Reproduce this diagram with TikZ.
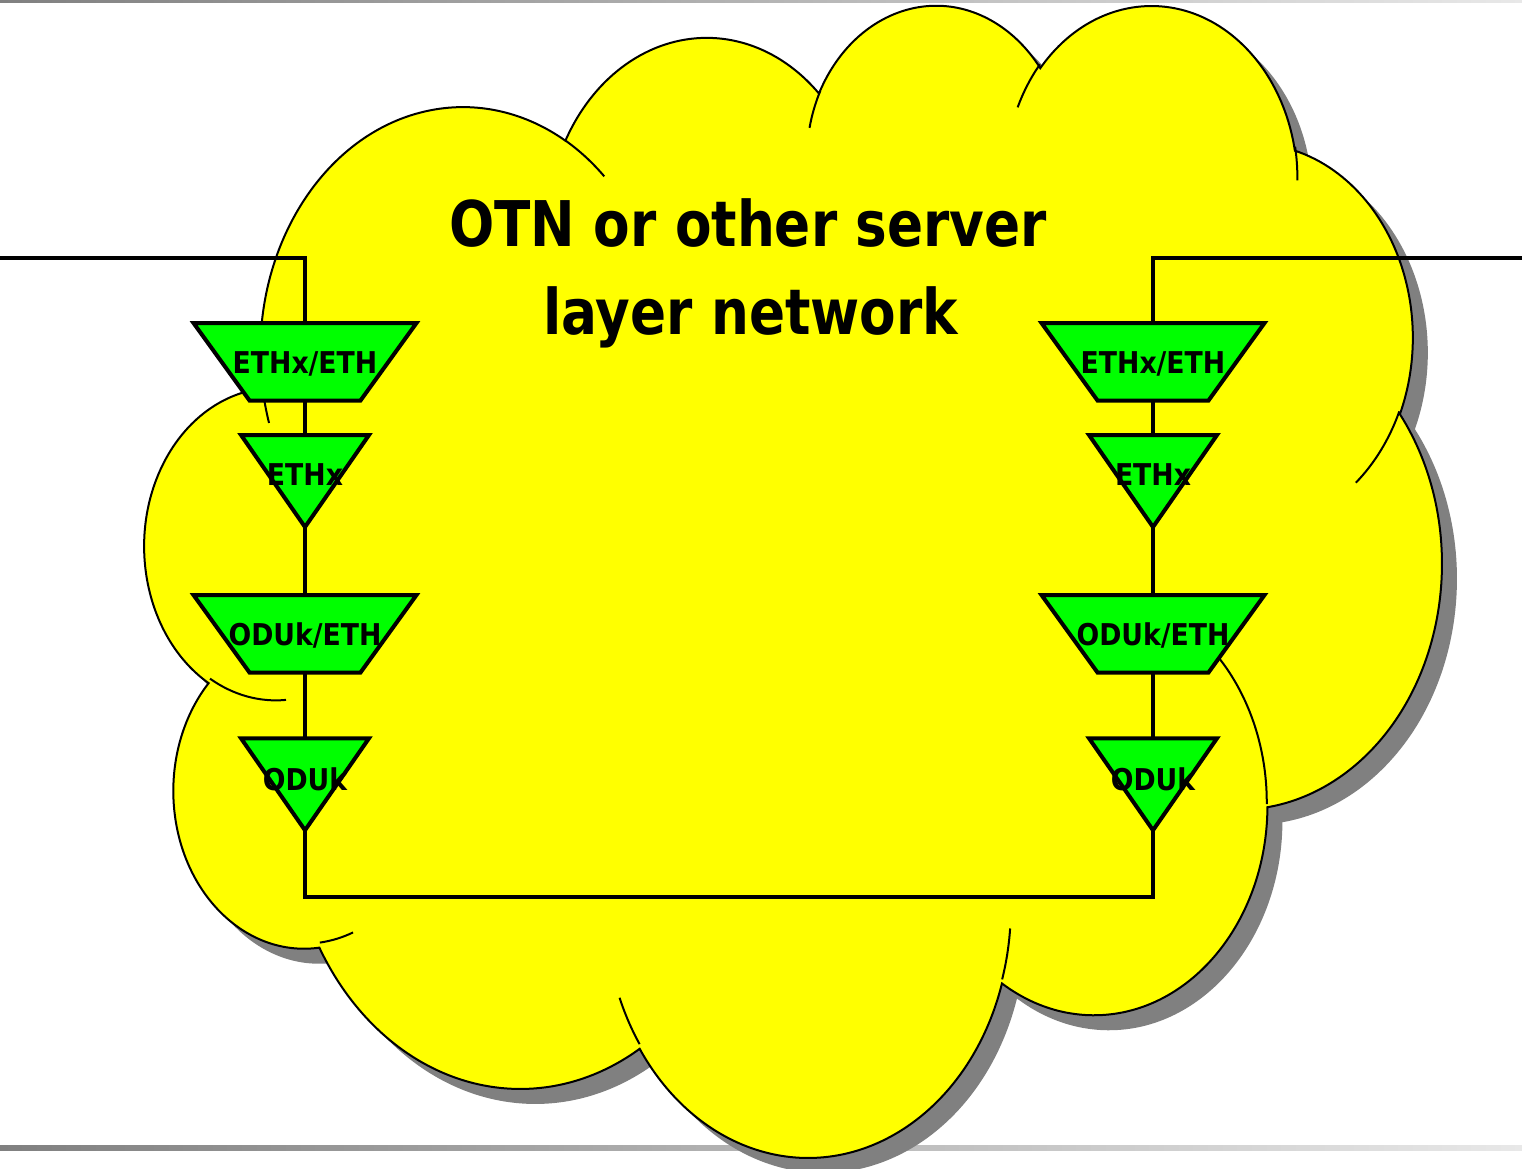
\documentclass[tikz,border=0pt]{standalone}
\usepackage{fontspec}
\setmainfont{DejaVu Sans}
\definecolor{cloudyellow}{RGB}{255,255,0}
\definecolor{nodegreen}{RGB}{0,255,0}
\definecolor{shadowgray}{RGB}{128,128,128}
\definecolor{barL}{RGB}{128,128,128}
\definecolor{barR}{RGB}{232,232,232}
% OOXML-style arcTo: convert visual angles to parametric ones
\newcommand\ooarc[5]{%
  \pgfmathsetmacro\ooA{#4}%
  \pgfmathsetmacro\ooB{(#4)+(#5)}%
  \pgfmathsetmacro\ooT{atan2((#2)*sin(\ooA),(#3)*cos(\ooA))}%
  \pgfmathsetmacro\ooS{(\ooA)+mod((\ooT)-(\ooA)+540,360)-180}%
  \pgfmathsetmacro\ooT{atan2((#2)*sin(\ooB),(#3)*cos(\ooB))}%
  \pgfmathsetmacro\ooE{(\ooB)+mod((\ooT)-(\ooB)+540,360)-180}%
  \expandafter\xdef\csname cl#1s\endcsname{\ooS}%
  \expandafter\xdef\csname cl#1e\endcsname{\ooE}%
}
\ooarc{A}{67.53}{91.90}{-190.48748}{123.78053}
\ooarc{B}{53.33}{72.67}{-144.10238}{89.94523}
\ooarc{C}{43.65}{59.45}{-145.80792}{99.72302}
\ooarc{D}{48.57}{65.95}{-130.98607}{117.24173}
\ooarc{E}{53.33}{72.73}{-78.70888}{109.02692}
\ooarc{F}{67.75}{92.20}{-46.26725}{130.269}
\ooarc{G}{57.85}{78.67}{0.62502}{114.03333}
\ooarc{H}{67.52}{92.15}{22.4516}{115.17255}
\ooarc{I}{77.20}{105.43}{66.24263}{75.71102}
\ooarc{J}{43.60}{59.18}{-274.94208}{146.73557}
\ooarc{K}{43.45}{59.45}{-246.8285}{152.51885}
\ooarc{a}{43.45}{59.45}{86.742}{26.4295}
\ooarc{b}{43.60}{59.18}{73.61047}{11.44747}
\ooarc{c}{67.52}{92.15}{137.62415}{14.0811}
\ooarc{d}{67.52}{92.15}{6.45327}{15.99835}
\ooarc{e}{57.85}{78.67}{-70.29235}{70.91737}
\ooarc{f}{53.33}{72.73}{30.31803}{27.7515}
\ooarc{g}{48.57}{65.95}{-13.74433}{14.8589}
\ooarc{h}{48.57}{65.95}{-149.18145}{18.19537}
\ooarc{i}{43.65}{59.45}{-163.49427}{17.68635}
\ooarc{j}{67.53}{91.90}{-66.70695}{12.31935}
\ooarc{k}{67.53}{91.90}{157.65435}{11.85817}
\newcommand\cloudpath{(39.00,143.70)
 arc[x radius=67.53,y radius=91.90,start angle=\clAs,end angle=\clAe]
 arc[x radius=53.33,y radius=72.67,start angle=\clBs,end angle=\clBe]
 arc[x radius=43.65,y radius=59.45,start angle=\clCs,end angle=\clCe]
 arc[x radius=48.57,y radius=65.95,start angle=\clDs,end angle=\clDe]
 arc[x radius=53.33,y radius=72.73,start angle=\clEs,end angle=\clEe]
 arc[x radius=67.75,y radius=92.20,start angle=\clFs,end angle=\clFe]
 arc[x radius=57.85,y radius=78.67,start angle=\clGs,end angle=\clGe]
 arc[x radius=67.52,y radius=92.15,start angle=\clHs,end angle=\clHe]
 arc[x radius=77.20,y radius=105.43,start angle=\clIs,end angle=\clIe]
 arc[x radius=43.60,y radius=59.18,start angle=\clJs,end angle=\clJe]
 arc[x radius=43.45,y radius=59.45,start angle=\clKs,end angle=\clKe]
 -- cycle}
\newcommand\lbltext[1]{\scalebox{0.89}[1]{#1}}
\begin{document}
\begin{tikzpicture}[x=1pt,y=-1pt,
  cloudline/.style={draw=black,line width=2pt},
  conn/.style={draw=black,line width=3.5pt},
  blockline/.style={draw=black,line width=4pt,fill=nodegreen,line join=miter},
  trapbox/.style={inner sep=0pt,outer sep=0pt,minimum width=223pt,minimum height=77.5pt},
  tribox/.style={inner sep=0pt,outer sep=0pt,minimum width=128pt,minimum height=92pt},
  lbl/.style={inner sep=0pt,anchor=base,font=\bfseries\fontsize{30}{36}\selectfont},
  ttl/.style={inner sep=0pt,anchor=base,font=\bfseries\fontsize{63}{80}\selectfont}]
\useasboundingbox (0,0) rectangle (1522,1168);
\fill[white] (0,0) rectangle (1522,1168);
% slide bars
\shade[left color=barL,right color=barR] (0,0) rectangle (1522,2);
\shade[left color=barL,right color=barR] (0,1145) rectangle (1522,1150);
% cloud shadow
\begin{scope}[shift={(160.2,17)},x=3.0004pt,y=-2.666pt]
  \fill[shadowgray] \cloudpath;
\end{scope}
% cloud
\begin{scope}[shift={(145.2,2)},x=3.0004pt,y=-2.666pt]
  \filldraw[fill=cloudyellow,cloudline] \cloudpath;
  \draw[cloudline]
   (46.93,261.77) arc[x radius=43.45,y radius=59.45,start angle=\clas,end angle=\clae]
   (69.28,348.99) arc[x radius=43.60,y radius=59.18,start angle=\clbs,end angle=\clbe]
   (164.78,390.90) arc[x radius=67.52,y radius=92.15,start angle=\clcs,end angle=\clce]
   (288.27,347.51) arc[x radius=67.52,y radius=92.15,start angle=\clds,end angle=\clde]
   (341.29,229.54) arc[x radius=57.85,y radius=78.67,start angle=\cles,end angle=\clee]
   (417.98,153.54) arc[x radius=53.33,y radius=72.73,start angle=\clfs,end angle=\clfe]
   (383.24,54.26) arc[x radius=48.57,y radius=65.95,start angle=\clgs,end angle=\clge]
   (290.78,39.52) arc[x radius=48.57,y radius=65.95,start angle=\clhs,end angle=\clhe]
   (221.41,47.20) arc[x radius=43.65,y radius=59.45,start angle=\clis,end angle=\clie]
   (140.00,51.92) arc[x radius=67.53,y radius=91.90,start angle=\cljs,end angle=\clje]
   (41.27,157.89) arc[x radius=67.53,y radius=91.90,start angle=\clks,end angle=\clke];
\end{scope}
% title
\node[ttl] (title1) at (748,246) {\scalebox{0.845}[1]{OTN or other server}};
\node[ttl] (title2) at (750.5,334) {\scalebox{0.845}[1]{layer network}};
% frames of the adaptation / termination blocks
\node[trapbox] (l1) at (305,361.75) {};
\node[tribox]  (l2) at (305,481) {};
\node[trapbox] (l3) at (305,633.75) {};
\node[tribox]  (l4) at (305,784.25) {};
\node[trapbox] (r1) at (1153,361.75) {};
\node[tribox]  (r2) at (1153,481) {};
\node[trapbox] (r3) at (1153,633.75) {};
\node[tribox]  (r4) at (1153,784.25) {};
\coordinate (inL) at (0,258);
\coordinate (inR) at (1522,258);
% connectors
\draw[conn] (inL) -| (l1.north);
\draw[conn] (inR) -| (r1.north);
\draw[conn] (l1.south) -- (l2.north);
\draw[conn] (l2.south) -- (l3.north);
\draw[conn] (l3.south) -- (l4.north);
\draw[conn] (r1.south) -- (r2.north);
\draw[conn] (r2.south) -- (r3.north);
\draw[conn] (r3.south) -- (r4.north);
\draw[conn] (l4.south) -- (l4.south |- 0,897) -- (r4.south |- 0,897) -- (r4.south);
% block shapes
\foreach \n in {l1,l3,r1,r3}{
  \draw[blockline] (\n.north west) -- (\n.north east) -- ([xshift=-56pt]\n.south east) -- ([xshift=56pt]\n.south west) -- cycle;
}
\foreach \n in {l2,l4,r2,r4}{
  \draw[blockline] (\n.north west) -- (\n.north east) -- (\n.south) -- cycle;
}
% labels
\node[lbl] (l1t) at ([yshift=-11.5pt]l1.center) {\lbltext{ETHx/ETH}};
\node[lbl] (l2t) at ([yshift=-4.7pt]l2.center) {\lbltext{ETHx}};
\node[lbl] (l3t) at ([yshift=-12pt]l3.center) {\lbltext{ODUk/ETH}};
\node[lbl] (l4t) at ([yshift=-5.75pt]l4.center) {\lbltext{ODUk}};
\node[lbl] (r1t) at ([yshift=-11.5pt]r1.center) {\lbltext{ETHx/ETH}};
\node[lbl] (r2t) at ([yshift=-4.7pt]r2.center) {\lbltext{ETHx}};
\node[lbl] (r3t) at ([yshift=-12pt]r3.center) {\lbltext{ODUk/ETH}};
\node[lbl] (r4t) at ([yshift=-5.75pt]r4.center) {\lbltext{ODUk}};
\end{tikzpicture}
\end{document}
